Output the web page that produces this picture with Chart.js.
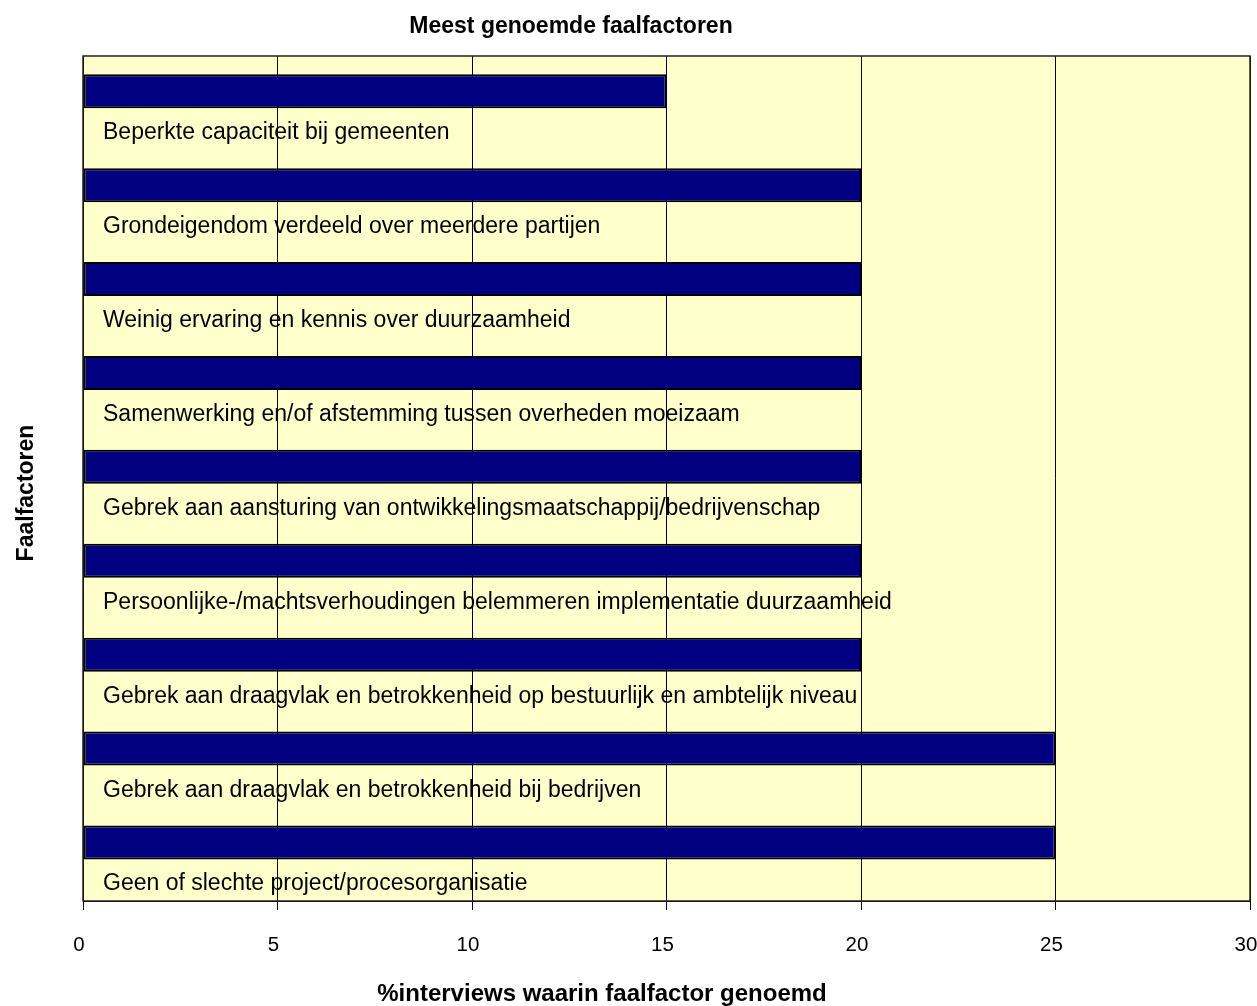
<!DOCTYPE html>
<html>
<head>
<meta charset="utf-8">
<title>Meest genoemde faalfactoren</title>
<script src="https://cdn.jsdelivr.net/npm/chart.js@4/dist/chart.umd.min.js"></script>
<style>
  html, body { margin: 0; padding: 0; background: #ffffff; overflow: hidden; }
  #wrap { position: relative; width: 1257px; height: 1006px; }
</style>
</head>
<body>
<div id="wrap"><canvas id="chart"></canvas></div>
<script>
// Failure factors, top to bottom
const categories = [
  'Beperkte capaciteit bij gemeenten',
  'Grondeigendom verdeeld over meerdere partijen',
  'Weinig ervaring en kennis over duurzaamheid',
  'Samenwerking en/of afstemming tussen overheden moeizaam',
  'Gebrek aan aansturing van ontwikkelingsmaatschappij/bedrijvenschap',
  'Persoonlijke-/machtsverhoudingen belemmeren implementatie duurzaamheid',
  'Gebrek aan draagvlak en betrokkenheid op bestuurlijk en ambtelijk niveau',
  'Gebrek aan draagvlak en betrokkenheid bij bedrijven',
  'Geen of slechte project/procesorganisatie'
];
// % of interviews in which the factor was mentioned
const percentages = [15, 20, 20, 20, 20, 20, 20, 25, 25];
// x axis range and tick step
const xMin = 0;
const xMax = 30;
const xStep = 5;

const chartTitle = 'Meest genoemde faalfactoren';
const xTitle = '%interviews waarin faalfactor genoemd';
const yTitle = 'Faalfactoren';

const FONT = "'Liberation Sans', Arial, Helvetica, sans-serif";
Chart.defaults.font.family = FONT;
Chart.defaults.color = '#000000';

// Empty second series keeps each bar in the upper half of its row,
// leaving room for the category text underneath.
const spacer = categories.map(() => null);

// Pale plot background plus a frame around the plot area
const plotFrame = {
  id: 'plotFrame',
  beforeDraw(chart) {
    const { ctx, chartArea: a } = chart;
    ctx.save();
    ctx.fillStyle = '#FFFFCC';
    ctx.fillRect(a.left, a.top, a.right - a.left, a.bottom - a.top);
    ctx.restore();
  },
  afterDraw(chart) {
    const { ctx, chartArea: a } = chart;
    ctx.save();
    ctx.strokeStyle = '#222222';
    ctx.lineWidth = 1.5;
    ctx.strokeRect(a.left, a.top, a.right - a.left, a.bottom - a.top);
    ctx.restore();
  }
};

// Chart title and axis titles
const titles = {
  id: 'titles',
  afterDraw(chart) {
    const { ctx } = chart;
    ctx.save();
    ctx.fillStyle = '#000000';
    ctx.textAlign = 'center';
    ctx.textBaseline = 'alphabetic';
    ctx.font = 'bold 23px ' + FONT;
    ctx.fillText(chartTitle, 571, 33);
    ctx.font = 'bold 24px ' + FONT;
    ctx.fillText(xTitle, 602, 1001);
    ctx.font = 'bold 23px ' + FONT;
    ctx.translate(33, 493);
    ctx.rotate(-Math.PI / 2);
    ctx.fillText(yTitle, 0, 0);
    ctx.restore();
  }
};

new Chart(document.getElementById('chart'), {
  type: 'bar',
  data: {
    labels: categories,
    datasets: [
      {
        label: 'Faalfactoren',
        data: percentages,
        backgroundColor: '#000080',
        borderColor: '#000000',
        borderWidth: 2,
        borderSkipped: false,
        categoryPercentage: 0.496,
        barPercentage: 1.46
      },
      {
        label: '',
        data: spacer,
        backgroundColor: 'rgba(0,0,0,0)',
        borderWidth: 0,
        categoryPercentage: 0.496,
        barPercentage: 1.46
      }
    ]
  },
  options: {
    indexAxis: 'y',
    responsive: true,
    maintainAspectRatio: false,
    animation: false,
    layout: { padding: { top: 56, left: 83, right: 7, bottom: 0 } },
    plugins: {
      legend: { display: false },
      tooltip: { enabled: false },
      title: { display: false }
    },
    scales: {
      x: {
        type: 'linear',
        position: 'bottom',
        min: xMin,
        max: xMax,
        ticks: {
          stepSize: xStep,
          font: { size: 20.5 },
          color: '#000000',
          padding: 23,
          labelOffset: -4,
          maxRotation: 0
        },
        grid: {
          color: '#000000',
          lineWidth: 1,
          tickLength: 9,
          drawOnChartArea: true
        },
        border: { display: true, color: '#000000', width: 1 },
        afterFit(scale) {
          scale.height = 105;
          scale.paddingLeft = 0;
          scale.paddingRight = 0;
        }
      },
      y: {
        type: 'category',
        position: 'left',
        offset: true,
        ticks: {
          mirror: true,
          padding: 20,
          labelOffset: 30,
          font: { size: 23 },
          color: '#000000',
          autoSkip: false
        },
        grid: { display: false, drawTicks: false },
        border: { display: false },
        afterFit(scale) {
          scale.width = 0;
          scale.paddingTop = 0;
          scale.paddingBottom = 0;
        }
      }
    }
  },
  plugins: [plotFrame, titles]
});
</script>
</body>
</html>
